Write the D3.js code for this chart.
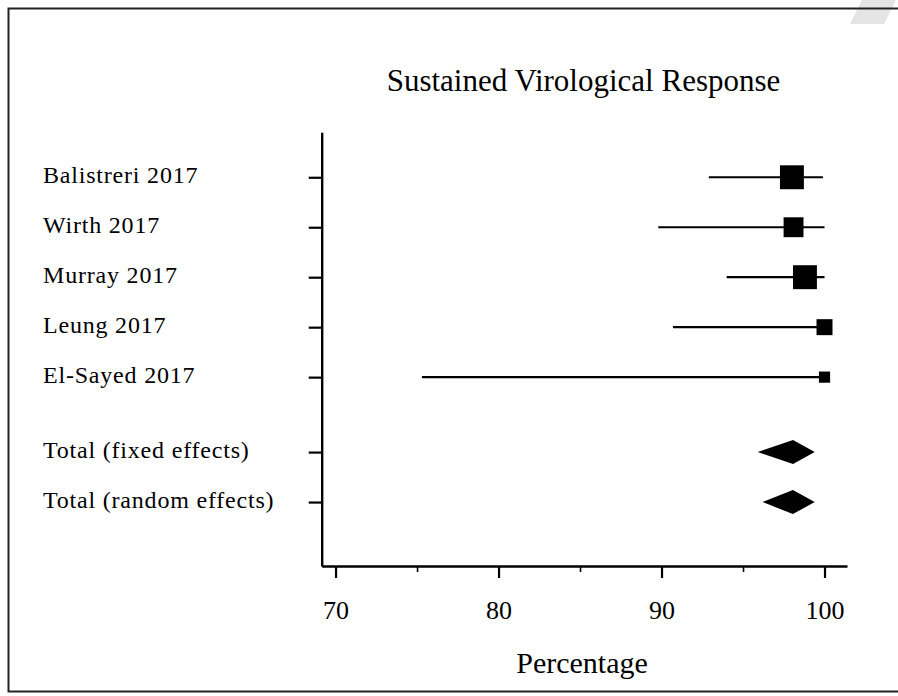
<!DOCTYPE html>
<html>
<head>
<meta charset="utf-8">
<script src="https://cdn.jsdelivr.net/npm/d3@7/dist/d3.min.js"></script>
<style>
  html, body { margin: 0; padding: 0; background: #fff; }
  svg { display: block; }
  text { font-family: "Liberation Serif", "Times New Roman", serif; fill: #000; }
</style>
</head>
<body>
<svg id="chart" width="898" height="696"></svg>
<script>
// ---- data ----
const studies = ["Balistreri 2017", "Wirth 2017", "Murray 2017", "Leung 2017", "El-Sayed 2017"];
const estimate = [98.0, 98.1, 98.8, 100.0, 100.0];
const lower = [92.9, 89.8, 94.0, 90.7, 75.3];
const upper = [99.9, 100.0, 100.0, 100.0, 100.0];
const weights = [29.8, 20.6, 29.8, 13.3, 6.5];
const pooledLabels = ["Total (fixed effects)", "Total (random effects)"];
const pooledEstimate = [98.07, 98.06];
const pooledLower = [95.9, 96.2];
const pooledUpper = [99.4, 99.4];
const majorTicks = [70, 80, 90, 100];
const minorTicks = [75, 85, 95];
const title = "Sustained Virological Response";
const xTitle = "Percentage";

// ---- layout ----
const svg = d3.select("#chart");
const W = 898, H = 696;
svg.append("rect").attr("x", 0).attr("y", 0).attr("width", W).attr("height", H).attr("fill", "#fff");

// watermark-like shape in top-right corner
svg.append("polygon")
  .attr("points", "862,0 896,0 884,24 850,24")
  .attr("fill", "#e4e4e4");

// frame
svg.append("path")
  .attr("d", `M${W + 5},8.5 H8.5 V691.5 H${W + 5}`)
  .attr("fill", "none").attr("stroke", "#222").attr("stroke-width", 2);

const x = d3.scaleLinear().domain([69.15, 101.38]).range([321.7, 847]);
const y = d3.scaleLinear().domain([-0.9, 7.78]).range([132.3, 566]);

const rows = studies.map((s, i) => ({
  label: s, est: estimate[i], lo: lower[i], hi: upper[i], w: weights[i], pos: i, pooled: false
})).concat(pooledLabels.map((s, j) => ({
  label: s, est: pooledEstimate[j], lo: pooledLower[j], hi: pooledUpper[j], pos: studies.length + 0.5 + j, pooled: true
})));

// y axis
const yAxis = d3.axisLeft(y).tickValues(rows.map(r => r.pos)).tickSize(13).tickSizeOuter(0).tickFormat("");
const gy = svg.append("g").attr("transform", "translate(321.7,0)").call(yAxis);
gy.select(".domain").attr("stroke", "#000").attr("stroke-width", 2.4);
gy.selectAll(".tick line").attr("stroke", "#000").attr("stroke-width", 2.2);

// x axis
const gx = svg.append("g").attr("transform", "translate(0,566)")
  .call(d3.axisBottom(x).tickValues(majorTicks).tickSize(12).tickSizeOuter(0).tickFormat(d3.format("d")));
gx.select(".domain").attr("stroke", "#000").attr("stroke-width", 2.4);
gx.selectAll(".tick line").attr("stroke", "#000").attr("stroke-width", 2.2);
gx.selectAll(".tick text")
  .attr("y", 53).attr("dy", 0)
  .style("font-family", "'Liberation Serif', serif")
  .style("font-size", "26px").attr("fill", "#000");
const gxm = svg.append("g").attr("transform", "translate(0,566)")
  .call(d3.axisBottom(x).tickValues(minorTicks).tickSize(6).tickSizeOuter(0).tickFormat(""));
gxm.select(".domain").remove();
gxm.selectAll(".tick line").attr("stroke", "#000").attr("stroke-width", 1.6);

// labels
svg.append("g").selectAll("text").data(rows).join("text")
  .attr("x", 43).attr("y", d => y(d.pos) + 6)
  .style("font-size", "24px").style("letter-spacing", "0.8px")
  .text(d => d.label);

// CI lines
const st = rows.filter(r => !r.pooled);
svg.append("g").selectAll("line").data(st).join("line")
  .attr("x1", d => x(d.lo)).attr("x2", d => x(d.hi))
  .attr("y1", d => y(d.pos)).attr("y2", d => y(d.pos))
  .attr("stroke", "#000").attr("stroke-width", 2.2);

// squares sized by weight
const size = d3.scaleSqrt().domain([0, 30]).range([0, 24]);
svg.append("g").selectAll("rect").data(st).join("rect")
  .attr("x", d => x(d.est) - size(d.w) / 2)
  .attr("y", d => y(d.pos) - size(d.w) / 2)
  .attr("width", d => size(d.w)).attr("height", d => size(d.w))
  .attr("fill", "#000");

// pooled diamonds
const pl = rows.filter(r => r.pooled);
svg.append("g").selectAll("path").data(pl).join("path")
  .attr("d", d => {
    const cy = y(d.pos), h = 12;
    return `M${x(d.lo)},${cy} L${x(d.est)},${cy - h} L${x(d.hi)},${cy} L${x(d.est)},${cy + h} Z`;
  })
  .attr("fill", "#000");

// titles
svg.append("text").attr("x", 583.5).attr("y", 91).attr("text-anchor", "middle")
  .style("font-size", "31px").text(title);
svg.append("text").attr("x", 582).attr("y", 673).attr("text-anchor", "middle")
  .style("font-size", "30px").text(xTitle);
</script>
</body>
</html>
